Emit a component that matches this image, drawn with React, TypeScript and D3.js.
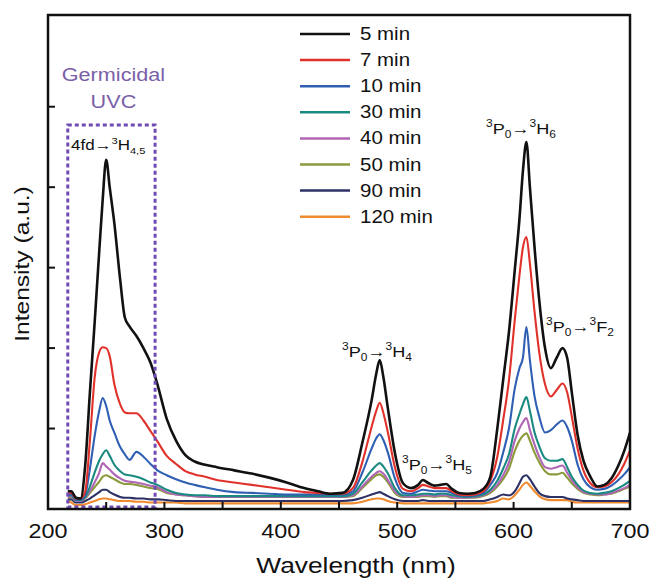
import React from "react";
import * as d3 from "d3";

const wavelengths = [
  217, 220, 224, 228, 232, 236, 240, 244, 247, 250,
  253, 257, 262, 266, 270, 276, 282, 288, 294, 302,
  310, 318, 326, 335, 345, 360, 375, 390, 405, 420,
  432, 443, 453, 462, 470, 478, 482, 485, 488, 492,
  498, 505, 512, 518, 522, 527, 532, 537, 542, 547,
  553, 560, 567, 574, 580, 586, 591, 596, 601, 605,
  608, 611, 614, 618, 622, 627, 632, 637, 642, 646,
  650, 655, 660, 666, 672, 678, 684, 690, 695, 700,
];

const min5 = [
  0.22, 0.22, 0.14, 0.13, 0.55, 1.45, 2.3, 3.2, 3.85, 4.34,
  4.0, 3.55, 2.85, 2.38, 2.27, 2.15, 2.0, 1.82, 1.55, 1.12,
  0.85, 0.67, 0.59, 0.55, 0.52, 0.48, 0.44, 0.39, 0.33, 0.26,
  0.22, 0.19, 0.2, 0.36, 0.82, 1.35, 1.68, 1.85, 1.65, 1.25,
  0.7, 0.32, 0.26, 0.3, 0.36, 0.32, 0.29, 0.3, 0.31, 0.25,
  0.2, 0.19, 0.2, 0.25, 0.4, 1.0, 1.6, 2.2, 2.97, 3.6,
  4.2, 4.56, 4.0, 3.25, 2.6, 2.0, 1.75, 1.88, 2.0, 1.88,
  1.45, 0.92, 0.6, 0.4, 0.28, 0.3, 0.38, 0.54, 0.72, 0.95,
];
const min7 = [
  0.2, 0.2, 0.13, 0.13, 0.22, 0.85, 1.62, 1.95, 2.01, 2.0,
  1.9, 1.55, 1.3, 1.2, 1.19, 1.19, 1.1, 0.97, 0.84, 0.66,
  0.56, 0.47, 0.43, 0.4, 0.36, 0.33, 0.3, 0.27, 0.24, 0.21,
  0.2, 0.19, 0.19, 0.26, 0.58, 1.02, 1.22, 1.32, 1.2, 0.95,
  0.52, 0.25, 0.22, 0.26, 0.3, 0.28, 0.26, 0.26, 0.26, 0.22,
  0.18, 0.17, 0.18, 0.22, 0.35, 0.65, 1.1, 1.6, 2.35, 2.9,
  3.25, 3.38, 3.05, 2.45, 1.95, 1.55, 1.4, 1.48, 1.56, 1.45,
  1.15, 0.75, 0.48, 0.32, 0.27, 0.28, 0.33, 0.43, 0.56, 0.73,
];
const min10 = [
  0.18, 0.18, 0.12, 0.12, 0.18, 0.5, 0.9, 1.22, 1.38, 1.28,
  1.1, 0.95, 0.77, 0.68, 0.61, 0.71, 0.65, 0.56, 0.48, 0.42,
  0.37, 0.33, 0.3, 0.27, 0.24, 0.21, 0.2, 0.19, 0.18, 0.18,
  0.18, 0.18, 0.18, 0.22, 0.45, 0.75, 0.88, 0.93, 0.86, 0.7,
  0.38, 0.2, 0.19, 0.22, 0.24, 0.23, 0.22, 0.22, 0.22, 0.2,
  0.17, 0.16, 0.17, 0.2, 0.3, 0.45, 0.7, 1.0, 1.5, 1.75,
  1.88, 2.26, 1.85, 1.4, 1.15, 0.95, 0.98, 1.05, 1.1, 1.02,
  0.85, 0.55, 0.37, 0.27, 0.24, 0.25, 0.29, 0.36, 0.43, 0.52,
];
const min30 = [
  0.17, 0.17, 0.11, 0.11, 0.15, 0.28, 0.45, 0.6, 0.68, 0.73,
  0.66, 0.55, 0.47, 0.43, 0.42, 0.4, 0.37, 0.33, 0.3, 0.24,
  0.2, 0.18, 0.17, 0.17, 0.16, 0.16, 0.16, 0.16, 0.16, 0.16,
  0.16, 0.16, 0.16, 0.19, 0.33, 0.48, 0.54, 0.57, 0.53, 0.44,
  0.26, 0.17, 0.17, 0.18, 0.19, 0.19, 0.18, 0.19, 0.19, 0.17,
  0.16, 0.15, 0.16, 0.18, 0.24, 0.35, 0.5, 0.68, 1.0, 1.18,
  1.3, 1.39, 1.22, 0.95, 0.78, 0.63, 0.6, 0.6, 0.62, 0.52,
  0.4, 0.3, 0.23, 0.2, 0.19, 0.2, 0.22, 0.26, 0.3, 0.35,
];
const min40 = [
  0.16, 0.16, 0.1, 0.1, 0.14, 0.22, 0.33, 0.45, 0.57, 0.53,
  0.49, 0.43, 0.38, 0.35, 0.34, 0.33, 0.31, 0.29, 0.27, 0.21,
  0.18, 0.17, 0.16, 0.15, 0.15, 0.15, 0.15, 0.15, 0.15, 0.15,
  0.15, 0.15, 0.15, 0.17, 0.28, 0.4, 0.45, 0.47, 0.44, 0.36,
  0.22, 0.16, 0.15, 0.16, 0.17, 0.17, 0.16, 0.17, 0.17, 0.15,
  0.14, 0.14, 0.15, 0.17, 0.22, 0.3, 0.42, 0.58, 0.85, 1.0,
  1.08, 1.13, 0.98, 0.8, 0.65, 0.52, 0.5, 0.52, 0.54, 0.45,
  0.36, 0.27, 0.21, 0.19, 0.18, 0.18, 0.2, 0.23, 0.26, 0.3,
];
const min50 = [
  0.15, 0.15, 0.1, 0.1, 0.13, 0.2, 0.27, 0.34, 0.4, 0.42,
  0.4, 0.37, 0.33, 0.31, 0.31, 0.3, 0.28, 0.26, 0.25, 0.2,
  0.18, 0.17, 0.16, 0.15, 0.15, 0.15, 0.15, 0.15, 0.15, 0.15,
  0.15, 0.15, 0.15, 0.16, 0.26, 0.37, 0.42, 0.43, 0.4, 0.33,
  0.2, 0.15, 0.15, 0.15, 0.16, 0.16, 0.15, 0.16, 0.16, 0.14,
  0.14, 0.14, 0.14, 0.16, 0.2, 0.28, 0.37, 0.5, 0.72, 0.85,
  0.91, 0.94, 0.85, 0.7, 0.58, 0.47, 0.43, 0.43, 0.45, 0.39,
  0.32, 0.25, 0.2, 0.18, 0.17, 0.18, 0.19, 0.22, 0.25, 0.28,
];
const min90 = [
  0.12, 0.12, 0.08, 0.08, 0.1, 0.13, 0.17, 0.21, 0.24, 0.24,
  0.21, 0.18, 0.15, 0.14, 0.14, 0.13, 0.13, 0.12, 0.12, 0.11,
  0.1, 0.1, 0.1, 0.1, 0.1, 0.1, 0.1, 0.1, 0.1, 0.1,
  0.1, 0.1, 0.1, 0.11, 0.14, 0.18, 0.2, 0.21, 0.19, 0.16,
  0.12, 0.1, 0.1, 0.1, 0.11, 0.1, 0.1, 0.1, 0.1, 0.1,
  0.1, 0.1, 0.1, 0.1, 0.12, 0.15, 0.18, 0.17, 0.22, 0.32,
  0.4, 0.42, 0.37, 0.28, 0.2, 0.16, 0.15, 0.15, 0.15, 0.13,
  0.12, 0.11, 0.1, 0.1, 0.1, 0.1, 0.1, 0.1, 0.1, 0.1,
];
const min120 = [
  0.1, 0.08, 0.05, 0.05, 0.06, 0.08, 0.1, 0.12, 0.13, 0.13,
  0.12, 0.11, 0.1, 0.1, 0.1, 0.09, 0.09, 0.08, 0.08, 0.08,
  0.08, 0.07, 0.07, 0.07, 0.07, 0.07, 0.07, 0.07, 0.07, 0.07,
  0.07, 0.07, 0.07, 0.07, 0.09, 0.12, 0.13, 0.13, 0.12, 0.1,
  0.08, 0.07, 0.07, 0.07, 0.07, 0.07, 0.07, 0.07, 0.07, 0.07,
  0.07, 0.07, 0.07, 0.07, 0.08, 0.1, 0.13, 0.12, 0.17, 0.24,
  0.3, 0.33, 0.29, 0.22, 0.16, 0.12, 0.11, 0.11, 0.11, 0.11,
  0.09, 0.08, 0.08, 0.08, 0.08, 0.08, 0.08, 0.08, 0.08, 0.08,
];

const seriesLabels = ["5 min", "7 min", "10 min", "30 min", "40 min", "50 min", "90 min", "120 min"];
const seriesValues = [min5, min7, min10, min30, min40, min50, min90, min120];
const seriesColors = ["#111111", "#e0322b", "#2f5fb3", "#1a8a80", "#b065b5", "#8c9a3c", "#2e3165", "#ef8a2e"];

const xTickValues = [200, 250, 300, 350, 400, 450, 500, 550, 600, 650, 700];
const xTickLabels = [200, 300, 400, 500, 600, 700];
const yTickValues = [1, 2, 3, 4, 5];
const uvcRange = [217, 292];

const FONT = "'Liberation Sans', Arial, Helvetica, sans-serif";
const SX = 1.17;

const W = 652, H = 578;
const L = 48, R = 630, T = 15, B = 509;

function T_({ x, y, size, anchor = "start", fill = "#111", rotate = 0, children }: any) {
  return (
    <text
      transform={`translate(${x},${y}) rotate(${rotate}) scale(${SX},1)`}
      fontSize={size}
      textAnchor={anchor}
      fill={fill}
      fontFamily={FONT}
    >
      {children}
    </text>
  );
}

function Trans({ x, y, size, lower, sub2, anchor = "start", first = "P", sub1 = "0" }: any) {
  const s = size * 0.66;
  return (
    <T_ x={x} y={y} size={size} anchor={anchor}>
      <tspan fontSize={s} dy={-size * 0.42}>3</tspan>
      <tspan dy={size * 0.42}>{first}</tspan>
      <tspan fontSize={s} dy={size * 0.28}>{sub1}</tspan>
      <tspan dy={-size * 0.28}>→</tspan>
      <tspan fontSize={s} dy={-size * 0.42}>3</tspan>
      <tspan dy={size * 0.42}>{lower}</tspan>
      <tspan fontSize={s} dy={size * 0.28}>{sub2}</tspan>
    </T_>
  );
}

export default function App() {
  const x = d3.scaleLinear().domain([200, 700]).range([L, R]);
  const y = d3.scaleLinear().domain([0, 6.14]).range([B, T]);
  const line = d3
    .line<number>()
    .x((_, i) => x(wavelengths[i]))
    .y((d) => y(d))
    .curve(d3.curveMonotoneX);

  const legendX = 300, legendY = 34, legendStep = 26.1;

  return (
    <svg width={W} height={H} style={{ position: "absolute", left: 0, top: 0, background: "#fff" }}>
      <defs>
        <clipPath id="plot">
          <rect x={L} y={T} width={R - L} height={B - T} />
        </clipPath>
      </defs>
      <rect x={0} y={0} width={W} height={H} fill="#fff" />

      {/* curves */}
      <g clipPath="url(#plot)" fill="none" strokeLinejoin="round">
        {seriesValues
          .map((vals, i) => ({ vals, i }))
          .reverse()
          .map(({ vals, i }) => (
            <path key={i} d={line(vals) || ""} stroke={seriesColors[i]} strokeWidth={i === 0 ? 2.6 : 2.1} />
          ))}
      </g>

      {/* UVC box */}
      <rect
        x={x(uvcRange[0])}
        y={125}
        width={x(uvcRange[1]) - x(uvcRange[0])}
        height={B - 2 - 125}
        fill="none"
        stroke="#6f4bb3"
        strokeWidth={3}
        strokeDasharray="4 3"
      />
      <T_ x={(x(uvcRange[0]) + x(uvcRange[1])) / 2 + 2} y={81} size={18.5} anchor="middle" fill="#7a5fa8">Germicidal</T_>
      <T_ x={(x(uvcRange[0]) + x(uvcRange[1])) / 2 + 2} y={108} size={18.5} anchor="middle" fill="#7a5fa8">UVC</T_>
      <T_ x={71} y={150} size={14.5}>
        <tspan>4fd→</tspan>
        <tspan fontSize={9.5} dy={-6}>3</tspan>
        <tspan dy={6}>H</tspan>
        <tspan fontSize={9.5} dy={4}>4,5</tspan>
      </T_>

      {/* transition annotations */}
      <Trans x={486} y={134} size={15.5} lower="H" sub2="6" />
      <Trans x={546} y={332} size={15.5} lower="F" sub2="2" />
      <Trans x={342} y={357} size={15.5} lower="H" sub2="4" />
      <Trans x={402} y={470} size={15.5} lower="H" sub2="5" />

      {/* frame */}
      <rect x={L} y={T} width={R - L} height={B - T} fill="none" stroke="#111" strokeWidth={2.5} />

      {/* x ticks */}
      {xTickValues.map((v) => (
        <line key={v} x1={x(v)} x2={x(v)} y1={B} y2={B - 7} stroke="#111" strokeWidth={2} />
      ))}
      {xTickLabels.map((v) => (
        <T_ key={v} x={x(v)} y={538} size={20} anchor="middle">{v}</T_>
      ))}
      {/* y ticks */}
      {yTickValues.map((v) => (
        <line key={v} x1={L} x2={L + 7} y1={y(v)} y2={y(v)} stroke="#111" strokeWidth={2} />
      ))}

      <T_ x={356} y={573} size={22.5} anchor="middle">Wavelength (nm)</T_>
      <T_ x={29} y={(T + B) / 2 + 2} size={21} anchor="middle" rotate={-90}>Intensity (a.u.)</T_>

      {/* legend */}
      {seriesLabels.map((lab, i) => (
        <g key={lab}>
          <line
            x1={legendX}
            x2={legendX + 50}
            y1={legendY + i * legendStep}
            y2={legendY + i * legendStep}
            stroke={seriesColors[i]}
            strokeWidth={2.5}
          />
          <T_ x={legendX + 60} y={legendY + i * legendStep + 6} size={17.5}>{lab}</T_>
        </g>
      ))}
    </svg>
  );
}
